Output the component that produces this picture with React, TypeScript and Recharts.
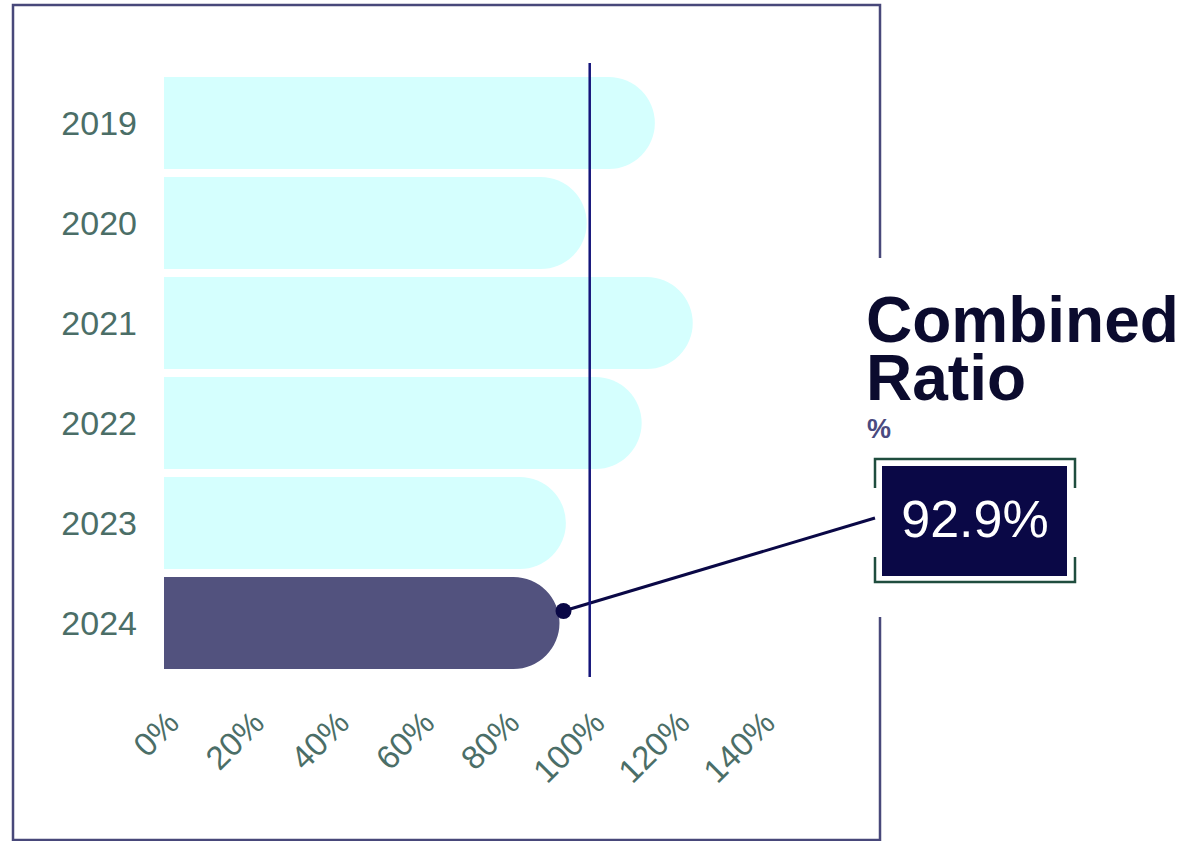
import React from 'react';
import { BarChart, Bar, XAxis, YAxis, ReferenceLine, Rectangle } from 'recharts';

const years = ['2019', '2020', '2021', '2022', '2023', '2024'];
const combinedRatio = [115.3, 99.3, 124.2, 112.2, 94.4, 92.9];
const xTicks = [0, 20, 40, 60, 80, 100, 120, 140];
const highlightYear = '2024';
const highlightLabel = '92.9%';
const titleLines = ['Combined', 'Ratio'];
const unitLabel = '%';

const data = years.map((y, i) => ({ year: y, value: combinedRatio[i] }));

const FONT = '"Liberation Sans", Arial, sans-serif';
const LIGHT = '#d5fffe';
const DARK_BAR = '#52527e';
const NAVY = '#0a0846';
const LABEL = '#4b6e67';

const BarShape = (props: any) => {
  const { x, y, width, height, payload } = props;
  const isHi = payload && payload.year === highlightYear;
  const r = height / 2;
  return (
    <g>
      <Rectangle x={x} y={y} width={width} height={height} radius={[0, r, r, 0]} fill={isHi ? DARK_BAR : LIGHT} />
      {isHi && (
        <g>
          <line x1={x + width + 4} y1={y + height / 2 - 12} x2={875} y2={518} stroke={NAVY} strokeWidth={3} />
          <circle cx={x + width + 4} cy={y + height / 2 - 12} r={8} fill={NAVY} />
        </g>
      )}
    </g>
  );
};

const XTick = (props: any) => {
  const { x, payload } = props;
  return (
    <text
      x={x + 17}
      y={725}
      transform={`rotate(-45 ${x + 17} 725)`}
      textAnchor="end"
      fill={LABEL}
      fontSize={33}
      fontFamily={FONT}
    >
      {payload.value}%
    </text>
  );
};

const RefShape = (props: any) => {
  const { x1, x2, y1, y2 } = props;
  const top = Math.min(y1, y2) - 10;
  const bot = Math.max(y1, y2) + 4;
  return <line x1={x1} x2={x2} y1={top} y2={bot} stroke="#14147a" strokeWidth={2.5} />;
};

export default function App() {
  return (
    <div style={{ position: 'absolute', left: 0, top: 0, width: 1195, height: 841, background: '#fff', fontFamily: FONT }}>
      <BarChart
        width={1195}
        height={841}
        data={data}
        layout="vertical"
        margin={{ top: 73, right: 435, bottom: 68, left: 0 }}
      >
        <XAxis
          type="number"
          domain={[0, 140]}
          ticks={xTicks}
          axisLine={false}
          tickLine={false}
          height={100}
          tick={<XTick />}
          interval={0}
        />
        <YAxis
          type="category"
          dataKey="year"
          width={164}
          axisLine={false}
          tickLine={false}
          tickSize={0}
          tickMargin={27}
          tick={{ fill: LABEL, fontSize: 34, fontFamily: FONT }}
        />
        <Bar dataKey="value" barSize={92} isAnimationActive={false} shape={<BarShape />} />
        <ReferenceLine x={100} shape={<RefShape />} ifOverflow="visible" />
      </BarChart>
      <svg
        width={1195}
        height={841}
        style={{ position: 'absolute', left: 0, top: 0, pointerEvents: 'none' }}
      >
        <path d="M13,841 V5 H880 V258 M880,617 V840 H13" fill="none" stroke="#48487a" strokeWidth={2.5} />
        <text x={866} y={342} fontSize={64} fontWeight="bold" fill="#0b0b2e" fontFamily={FONT}>{titleLines[0]}</text>
        <text x={866} y={400} fontSize={64} fontWeight="bold" fill="#0b0b2e" fontFamily={FONT}>{titleLines[1]}</text>
        <text x={867} y={438} fontSize={27} fontWeight="bold" fill="#4a4a80" fontFamily={FONT}>{unitLabel}</text>
        <path d="M875,488 V459 H1075 V488 M875,557 V582 H1075 V557" fill="none" stroke="#1f4d3e" strokeWidth={2.5} />
        <rect x={882} y={466} width={185} height={110} fill={NAVY} />
        <text x={975} y={537} fontSize={52} fill="#ffffff" textAnchor="middle" fontFamily={FONT}>{highlightLabel}</text>
      </svg>
    </div>
  );
}
